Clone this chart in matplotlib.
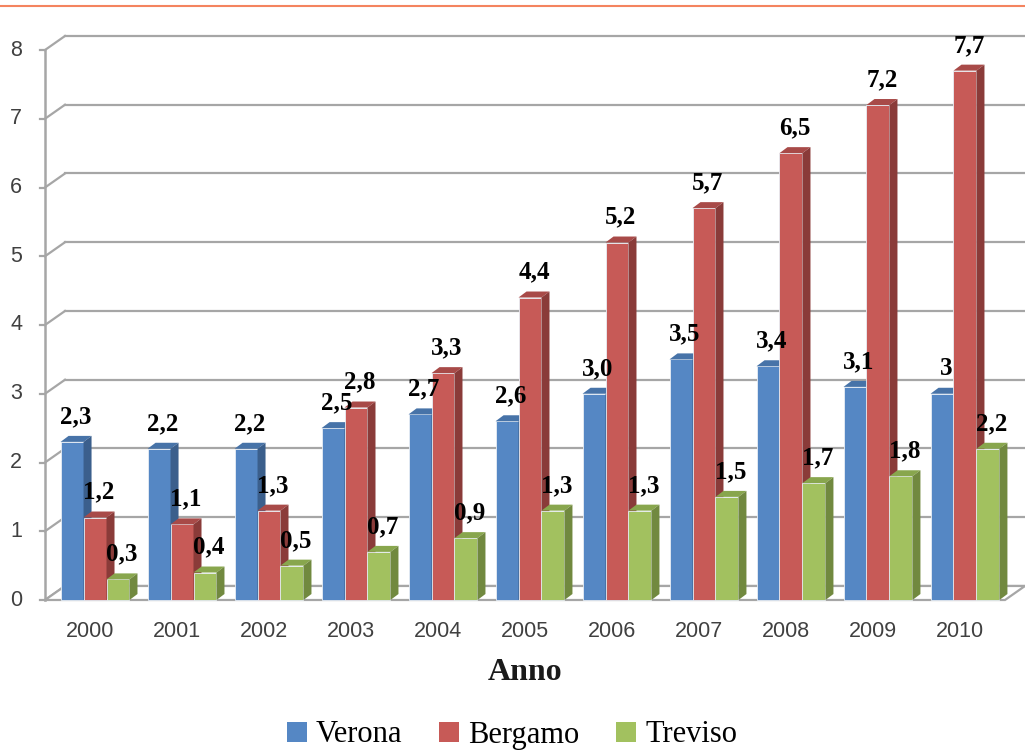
import matplotlib
matplotlib.use("Agg")
import matplotlib.pyplot as plt
import numpy as np
from matplotlib.patches import Polygon, Patch
from matplotlib.lines import Line2D

years = ["2000", "2001", "2002", "2003", "2004", "2005",
         "2006", "2007", "2008", "2009", "2010"]
series = ["Verona", "Bergamo", "Treviso"]
verona = [2.3, 2.2, 2.2, 2.5, 2.7, 2.6, 3.0, 3.5, 3.4, 3.1, 3.0]
bergamo = [1.2, 1.1, 1.3, 2.8, 3.3, 4.4, 5.2, 5.7, 6.5, 7.2, 7.7]
treviso = [0.3, 0.4, 0.5, 0.7, 0.9, 1.3, 1.3, 1.5, 1.7, 1.8, 2.2]
verona_lbl = ["2,3", "2,2", "2,2", "2,5", "2,7", "2,6", "3,0", "3,5", "3,4", "3,1", "3"]
bergamo_lbl = ["1,2", "1,1", "1,3", "2,8", "3,3", "4,4", "5,2", "5,7", "6,5", "7,2", "7,7"]
treviso_lbl = ["0,3", "0,4", "0,5", "0,7", "0,9", "1,3", "1,3", "1,5", "1,7", "1,8", "2,2"]
yticks = [0, 1, 2, 3, 4, 5, 6, 7, 8]

# front / top / side colours per series
COLS = {
    "Verona": ("#5587C4", "#4773A8", "#3B5F8C"),
    "Bergamo": ("#C75A57", "#A84A48", "#8A3B39"),
    "Treviso": ("#A2C15F", "#88A64D", "#71893F"),
}

BW = 0.264          # bar width (category units)
DX, DY = 0.092, 0.087   # bar depth offset
WX, WY = 0.23, 0.204    # back-wall offset
X0, X1 = -0.575, 10.69
GRID = "#A6A6A6"

fig = plt.figure(figsize=(10.25, 7.51), dpi=100)
ax = fig.add_axes([45 / 1025, 151 / 751, 980 / 1025, 550 / 751])
ax.set_xlim(X0, X1)
ax.set_ylim(0, 8)
ax.axis("off")

# back wall grid + left wall diagonals
for v in yticks:
    ax.plot([X0 + WX, X1], [v + WY, v + WY], color=GRID, lw=1.6, clip_on=False, zorder=1)
    ax.plot([X0, X0 + WX], [v, v + WY], color=GRID, lw=1.6, clip_on=False, zorder=1)
    ax.plot([X0 - 0.06, X0], [v, v], color=GRID, lw=1.6, clip_on=False, zorder=1)
    ax.text(-0.908, v, str(v), ha="center", va="center", fontsize=15.5,
            color="#404040", family="Liberation Sans")
ax.plot([X0, X0], [0, 8], color=GRID, lw=1.8, clip_on=False, zorder=1)

# floor
fx = 10.46
ax.add_patch(Polygon([[X0, 0], [fx, 0], [X1, WY], [X0 + WX, WY]], closed=True,
                     facecolor="white", edgecolor=GRID, lw=1.6, clip_on=False, zorder=1.5))

x = np.arange(len(years))
data = [(verona, verona_lbl), (bergamo, bergamo_lbl), (treviso, treviso_lbl)]
offsets = [-BW * 1.5, -BW * 0.5, BW * 0.5]
for i in range(len(years)):
    for k, (name, (vals, lbls)) in enumerate(zip(series, data)):
        front, top, side = COLS[name]
        left = x[i] + offsets[k]
        right = left + BW
        h = vals[i]
        z = 3 + i * 3 + k
        ax.add_patch(Polygon([[left, 0], [right, 0], [right, h], [left, h]],
                             facecolor=front, edgecolor="#E8EEF5", lw=0.6,
                             clip_on=False, zorder=z))
        ax.add_patch(Polygon([[left, h], [right, h], [right + DX, h + DY], [left + DX, h + DY]],
                             facecolor=top, edgecolor="none", clip_on=False, zorder=z))
        ax.add_patch(Polygon([[right, 0], [right + DX, DY], [right + DX, h + DY], [right, h]],
                             facecolor=side, edgecolor="none", clip_on=False, zorder=z))
        ax.text(left + BW / 2 + DX / 2, h + 0.2, lbls[i], ha="center", va="bottom",
                fontsize=18, fontweight="bold", family="Liberation Serif",
                color="black", zorder=50)
    ax.text(x[i] - 0.06, -0.465, years[i], ha="center", va="center", fontsize=15.5,
            color="#404040", family="Liberation Sans")

ax.text(4.94, -1.05, "Anno", ha="center", va="center", fontsize=23,
        fontweight="bold", family="Liberation Serif", color="#1a1a1a")

handles = [Patch(facecolor=COLS[s][0], edgecolor="none") for s in series]
fig.legend(handles, series, loc="center", bbox_to_anchor=(512 / 1025, 16 / 751),
           ncol=3, frameon=False, handlelength=0.65, handleheight=0.65,
           handletextpad=0.3, columnspacing=1.2,
           prop={"family": "Liberation Serif", "size": 22})

fig.add_artist(Line2D([0, 1], [1 - 5.5 / 751, 1 - 5.5 / 751], color="#F4845F", lw=1.5))

fig.savefig("out.png", dpi=100)
